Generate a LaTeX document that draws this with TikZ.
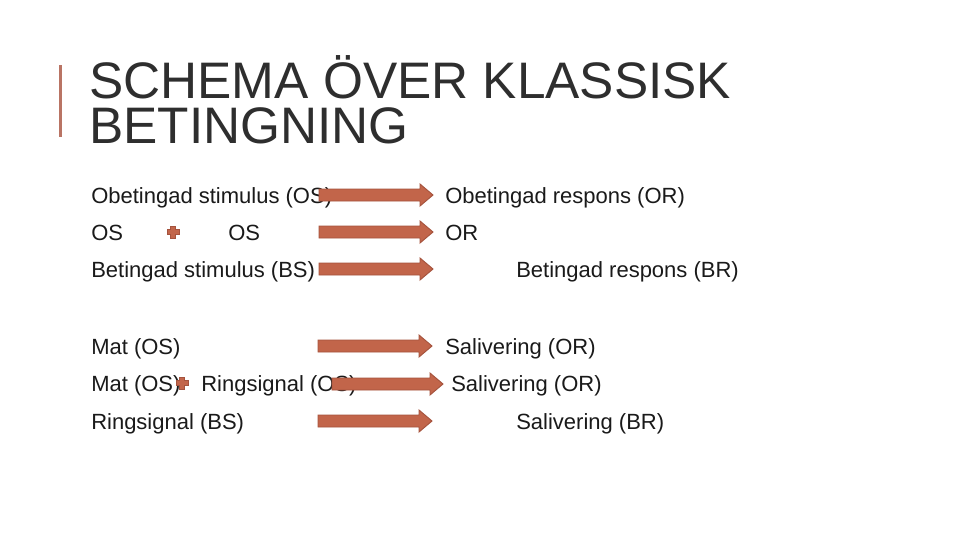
\documentclass[tikz,border=0pt]{standalone}
\usepackage{fontspec}
\setmainfont{Liberation Sans}
\definecolor{arrfill}{HTML}{C2654A}
\definecolor{arrdraw}{HTML}{A5533D}
\definecolor{barcol}{HTML}{B97464}
\definecolor{txt}{HTML}{1A1A1A}
\definecolor{ttltxt}{HTML}{2E2E2E}
\newcommand{\blockarr}[3]{%
  \fill[arrfill,draw=arrdraw,line width=0.7pt,line join=miter]
    (#1,#3-6) -- (#2-13,#3-6) -- (#2-13,#3-11) -- (#2,#3) -- (#2-13,#3+11) -- (#2-13,#3+6) -- (#1,#3+6) -- cycle;}
\newcommand{\plussign}[2]{%
  \fill[arrfill,draw=arrdraw,line width=0.5pt]
    (#1-2.5,#2-6) -- (#1+2.5,#2-6) -- (#1+2.5,#2-2.5) -- (#1+6,#2-2.5) -- (#1+6,#2+2.5) -- (#1+2.5,#2+2.5) -- (#1+2.5,#2+6) -- (#1-2.5,#2+6) -- (#1-2.5,#2+2.5) -- (#1-6,#2+2.5) -- (#1-6,#2-2.5) -- (#1-2.5,#2-2.5) -- cycle;}
\begin{document}
\begin{tikzpicture}[x=0.75pt,y=-0.75pt,
  body/.style={anchor=base west,inner sep=0pt,text=txt,font=\fontsize{16.5}{20}\selectfont},
  ttl/.style={anchor=base west,inner sep=0pt,text=ttltxt,align=left,font=\fontsize{38.5}{33.75}\selectfont}]
\useasboundingbox[fill=white] (0,0) rectangle (960,540);
% title bar
\fill[barcol] (58.5,65) rectangle (61.5,137);
\node[ttl] (t1) at (89,143) {SCHEMA ÖVER KLASSISK\\BETINGNING};
% rows left
\node[body] (l1) at (91,203) {Obetingad stimulus (OS)};
\node[body] (l2a) at (91,240) {OS};
\node[body] (l2b) at (228,240) {OS};
\node[body] (l3) at (91,277) {Betingad stimulus (BS)};
\node[body] (l4) at (91,354) {Mat (OS)};
\node[body] (l5a) at (91,391) {Mat (OS)};
\node[body] (l5b) at (201,391) {Ringsignal (OS)};
\node[body] (l6) at (91,429) {Ringsignal (BS)};
% rows right
\node[body] (r1) at (445,203) {Obetingad respons (OR)};
\node[body] (r2) at (445,240) {OR};
\node[body] (r3) at (516,277) {Betingad respons (BR)};
\node[body] (r4) at (445,354) {Salivering (OR)};
\node[body] (r5) at (451,391) {Salivering (OR)};
\node[body] (r6) at (516,429) {Salivering (BR)};
% plus signs
\plussign{173}{232}
\plussign{182}{383}
% arrows
\blockarr{319}{433}{195}
\blockarr{319}{433}{232}
\blockarr{319}{433}{269}
\blockarr{318}{432}{346}
\blockarr{332}{443}{384}
\blockarr{318}{432}{421}
\end{tikzpicture}
\end{document}
